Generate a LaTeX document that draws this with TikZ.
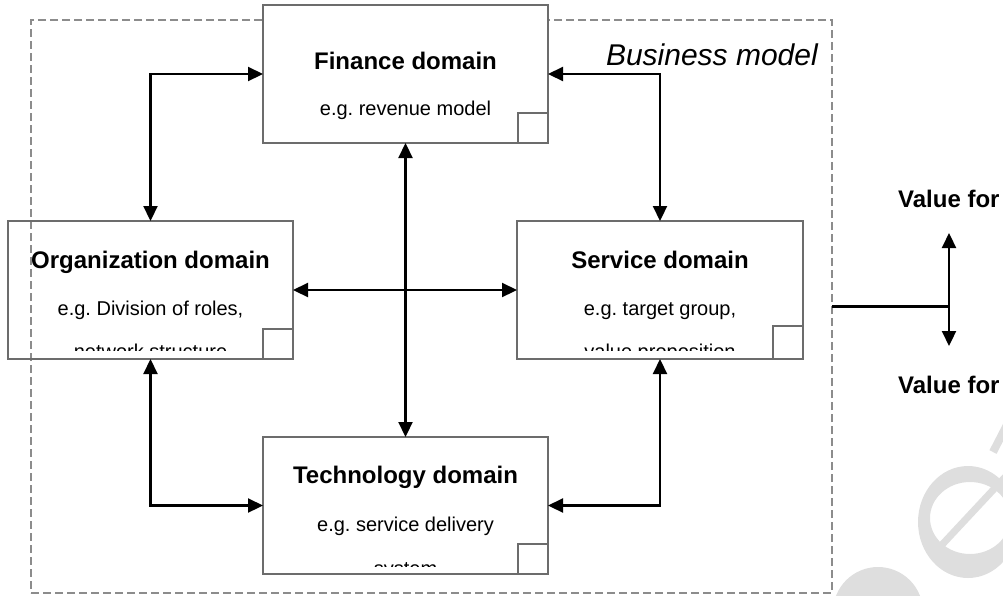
\documentclass[tikz,border=0pt]{standalone}
\usepackage{fontspec}
\setmainfont{Liberation Sans}
\usetikzlibrary{arrows.meta,calc}
\definecolor{boxgray}{RGB}{108,108,108}
\definecolor{dashgray}{RGB}{140,140,140}
\definecolor{wmgray}{RGB}{222,222,222}
\frenchspacing
\begin{document}
\begin{tikzpicture}[x=1pt,y=-1pt,
  dom/.style={draw=boxgray, line width=2.3pt, inner sep=0pt, outer sep=0pt, minimum width=285pt, minimum height=138pt},
  corner/.style={draw=boxgray, line width=2.3pt, inner sep=0pt, outer sep=0pt, minimum width=30pt, minimum height=30pt, anchor=south east},
  title/.style={font=\fontsize{24}{28}\selectfont\bfseries, anchor=base, inner sep=0pt},
  sub/.style={font=\fontsize{20}{24}\selectfont, anchor=base, inner sep=0pt},
  link/.style={line width=2.2pt, {Triangle[length=15pt,width=14pt]}-{Triangle[length=15pt,width=14pt]}},
  plain/.style={line width=2.2pt}
]
\useasboundingbox (0,0) rectangle (1003,595);
% watermark
\begin{scope}
  \clip (0,0) rectangle (1003,595);
  \fill[wmgray, even odd rule] (968,522) ellipse [x radius=50, y radius=56]
    (970,518) ellipse [x radius=40, y radius=36];
  \draw[wmgray, line width=7pt] (938,549) -- (1008,474);
  \draw[wmgray, line width=8pt] (993,452) -- (1009,421);
  \fill[wmgray] (878,612) circle (45);
\end{scope}
% business model frame
\node[draw=dashgray, line width=2pt, dash pattern=on 8pt off 4pt, minimum width=801pt, minimum height=573pt, inner sep=0pt, outer sep=0pt] (bm) at (431.5,306.5) {};
\node[font=\fontsize{30}{34}\selectfont\itshape, anchor=base east, inner sep=0pt] (bml) at (818,65) {Business model};
% domain boxes
\node[dom] (org) at (150.5,290) {};
\node[dom, fill=white] (fin) at (405.5,74) {};
\node[dom, minimum width=286pt] (serv) at (660,290) {};
\node[dom, minimum height=137pt] (tech) at (405.5,505.5) {};
\node[corner] (finc) at (fin.south east) {};
\node[corner] (orgc) at (org.south east) {};
\node[corner, minimum height=33pt] (servc) at (serv.south east) {};
\node[corner] (techc) at (tech.south east) {};
% texts
\node[title] (ft) at (405.5,69) {Finance domain};
\node[sub] (fs) at (405.5,115) {e.g. revenue model};
\node[title] (ot) at (150.5,268) {Organization domain};
\node[sub] (os) at (150.5,315) {e.g. Division of roles,};
\node[title] (st) at (660,268) {Service domain};
\node[sub] (ss) at (660,315) {e.g. target group,};
\node[title] (tt) at (405.5,483) {Technology domain};
\node[sub] (ts) at (405.5,531) {e.g. service delivery};
\begin{scope}
  \clip (org.north west) rectangle ($(org.south east)+(0,-9)$);
  \node[sub] (os2) at (150.5,358.5) {network structure};
\end{scope}
\begin{scope}
  \clip (serv.north west) rectangle ($(serv.south east)+(0,-9)$);
  \node[sub] (ss2) at (660,358.5) {value proposition};
\end{scope}
\begin{scope}
  \clip (tech.north west) rectangle ($(tech.south east)+(0,-7.5)$);
  \node[sub] (ts2) at (405.5,575) {system};
\end{scope}
% connectors
\draw[link] (fin.west) -| (org.north);
\draw[link] (fin.east) -| (serv.north);
\draw[link] (org.south) |- (tech.west);
\draw[link] (serv.south) |- (tech.east);
\draw[link] (fin.south) -- (tech.north);
\draw[link] (org.east) -- (serv.west);
% value for
\node[title, anchor=base west] (vtop) at (898,207) {Value for};
\node[title, anchor=base west] (vbot) at (898,393) {Value for};
\coordinate (vj) at (949,306.5);
\coordinate (vup) at (949,233);
\coordinate (vdn) at (949,346);
\draw[plain] (bm.east) -- (vj);
\draw[link] (vup) -- (vdn);
\end{tikzpicture}
\end{document}
